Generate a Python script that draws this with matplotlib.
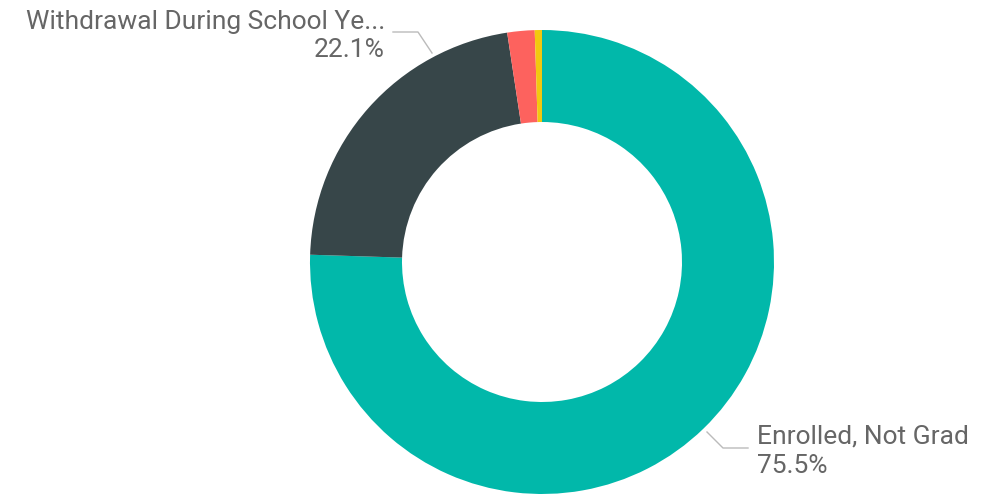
import matplotlib.pyplot as plt

# dati
categorie = ['Enrolled, Not Grad', 'Withdrawal During School Ye...', 'Graduated', 'Other']
valori = [75.5, 22.1, 1.9, 0.5]
colori = ['#01B8AA', '#374649', '#FD625E', '#F2C80F']

plt.rcParams['font.family'] = ['Roboto', 'DejaVu Sans']

fig = plt.figure(figsize=(9.81, 4.94), dpi=100)
ax = fig.add_axes([0, 0, 1, 1])

ax.pie(valori, colors=colori, startangle=90, counterclock=False,
       center=(542, 232), radius=232,
       wedgeprops=dict(width=92, linewidth=0))

# pie() reimposta i limiti, quindi li fisso dopo
ax.set_xlim(0, 981)
ax.set_ylim(0, 494)
ax.set_aspect('equal')
ax.axis('off')

grigio = '#666666'
linea = '#BBBBBB'
fs = 19

# etichetta in alto a sinistra
ax.plot([393, 418, 432], [462, 462, 441], color=linea, lw=1)
ax.text(385, 465, categorie[1], ha='right', va='baseline', fontsize=fs, color=grigio)
ax.text(385, 437, f'{valori[1]}%', ha='right', va='baseline', fontsize=fs, color=grigio)

# etichetta in basso a destra
ax.plot([707, 723, 748], [62, 46, 46], color=linea, lw=1)
ax.text(757, 51, categorie[0], ha='left', va='baseline', fontsize=fs, color=grigio)
ax.text(757, 21, f'{valori[0]}%', ha='left', va='baseline', fontsize=fs, color=grigio)

fig.savefig('out.png', dpi=100)
